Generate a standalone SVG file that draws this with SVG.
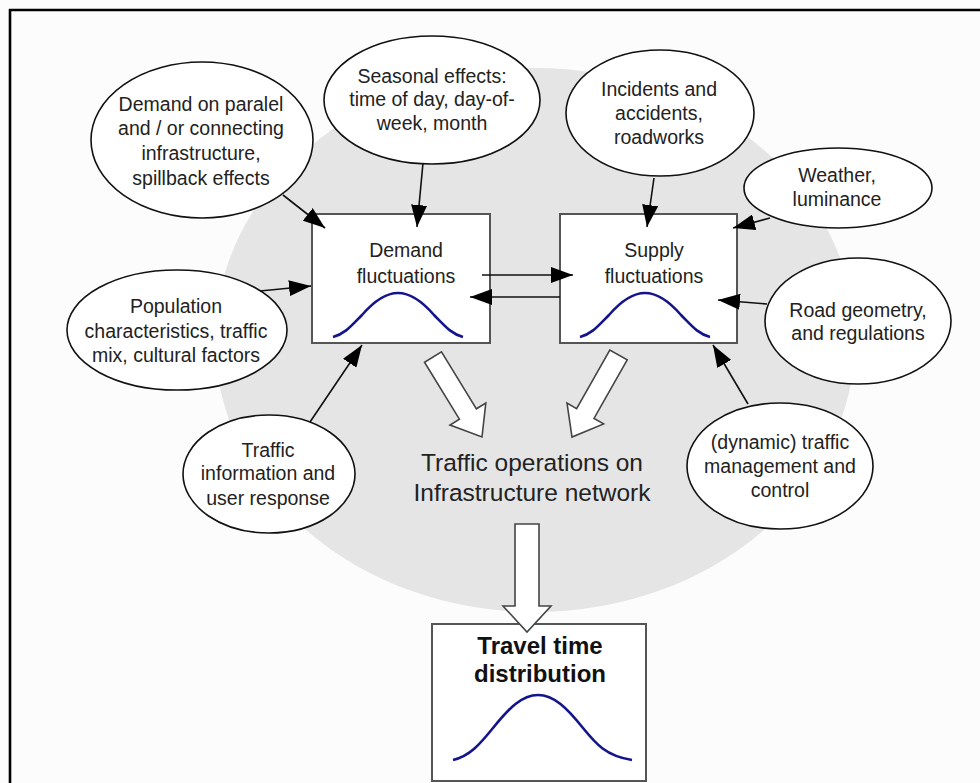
<svg xmlns="http://www.w3.org/2000/svg" width="980" height="783" viewBox="0 0 980 783">
<defs>
<style>
.bg{fill:#fcfcfc}
.cloud{fill:#e5e5e5}
.ell{fill:#ffffff;stroke:#111;stroke-width:1.6}
.box{fill:#ffffff;stroke:#555;stroke-width:2}
.t{font-family:"Liberation Sans",Arial,sans-serif;font-size:19.5px;fill:#222;text-anchor:middle}
.big{font-family:"Liberation Sans",Arial,sans-serif;font-size:24.5px;fill:#222;text-anchor:middle}
.bold{font-family:"Liberation Sans",Arial,sans-serif;font-size:24px;font-weight:bold;fill:#111;text-anchor:middle}
.curve{fill:none;stroke:#14148c;stroke-width:2.6}
.con{stroke:#111;stroke-width:1.6;fill:none}
.block{fill:#ffffff;stroke:#444;stroke-width:1.6;stroke-linejoin:miter}
</style>
<marker id="ah" viewBox="0 0 22 16" refX="22" refY="8" markerWidth="22" markerHeight="16" markerUnits="userSpaceOnUse" orient="auto">
<path d="M0,0 L22,8 L0,16 Z" fill="#000"/>
</marker>
</defs>
<rect class="bg" x="0" y="0" width="980" height="783"/>
<line x1="9" y1="10" x2="980" y2="10" stroke="#000" stroke-width="2.6"/>
<line x1="10" y1="9" x2="10" y2="783" stroke="#000" stroke-width="2.6"/>
<ellipse class="cloud" cx="535" cy="340" rx="320" ry="272"/>

<g id="demand-box">
<rect class="box" x="312" y="214" width="178" height="129"/>
<text class="t" x="406" y="257">Demand</text>
<text class="t" x="406" y="283">fluctuations</text>
<path class="curve" d="M333,337 C345,334 352,325 362,315 C375,300 386,293 398,293 C410,293 421,300 434,315 C444,325 451,334 463,337"/>
</g>

<g id="supply-box">
<rect class="box" x="560" y="214" width="177" height="129"/>
<text class="t" x="654" y="257">Supply</text>
<text class="t" x="654" y="283">fluctuations</text>
<path class="curve" d="M580,337 C592,334 599,325 609,315 C622,300 633,293 645,293 C657,293 668,300 681,315 C691,325 698,334 710,337"/>
</g>

<g id="e-parallel">
<ellipse class="ell" cx="202" cy="140" rx="111" ry="78"/>
<text class="t" x="201" y="111">Demand on paralel</text>
<text class="t" x="201" y="135">and / or connecting</text>
<text class="t" x="201" y="160">infrastructure,</text>
<text class="t" x="201" y="185">spillback effects</text>
</g>

<g id="e-seasonal">
<ellipse class="ell" cx="432" cy="100" rx="108" ry="64"/>
<text class="t" x="432" y="83">Seasonal effects:</text>
<text class="t" x="432" y="106">time of day, day-of-</text>
<text class="t" x="432" y="130">week, month</text>
</g>

<g id="e-incidents">
<ellipse class="ell" cx="660" cy="113" rx="94" ry="63"/>
<text class="t" x="659" y="96">Incidents and</text>
<text class="t" x="659" y="120">accidents,</text>
<text class="t" x="659" y="144">roadworks</text>
</g>

<g id="e-weather">
<ellipse class="ell" cx="838" cy="188" rx="94" ry="40"/>
<text class="t" x="837" y="182">Weather,</text>
<text class="t" x="837" y="206">luminance</text>
</g>

<g id="e-road">
<ellipse class="ell" cx="858" cy="321" rx="93" ry="63"/>
<text class="t" x="858" y="317">Road geometry,</text>
<text class="t" x="858" y="340">and regulations</text>
</g>

<g id="e-population">
<ellipse class="ell" cx="177" cy="330" rx="110" ry="60"/>
<text class="t" x="176" y="313">Population</text>
<text class="t" x="176" y="338">characteristics, traffic</text>
<text class="t" x="176" y="362">mix, cultural factors</text>
</g>

<g id="e-info">
<ellipse class="ell" cx="269" cy="474" rx="86" ry="59"/>
<text class="t" x="268" y="457">Traffic</text>
<text class="t" x="268" y="480">information and</text>
<text class="t" x="268" y="505">user response</text>
</g>

<g id="e-dynamic">
<ellipse class="ell" cx="780" cy="466" rx="93" ry="63"/>
<text class="t" x="780" y="449">(dynamic) traffic</text>
<text class="t" x="780" y="473">management and</text>
<text class="t" x="780" y="497">control</text>
</g>

<g id="operations">
<text class="big" x="532" y="471">Traffic operations on</text>
<text class="big" x="532" y="501">Infrastructure network</text>
</g>

<g id="travel-box">
<rect class="box" x="432" y="624" width="214" height="157"/>
<text class="bold" x="540" y="654">Travel time</text>
<text class="bold" x="540" y="682">distribution</text>
<path class="curve" d="M453,760 C470,756 480,744 493,728 C509,708 522,695 538,695 C554,695 567,708 583,728 C596,744 606,756 632,760"/>
</g>

<g id="connectors">
<line class="con" x1="283" y1="195" x2="325" y2="228" marker-end="url(#ah)"/>
<line class="con" x1="423" y1="163" x2="417" y2="227" marker-end="url(#ah)"/>
<line class="con" x1="260" y1="291" x2="311" y2="286" marker-end="url(#ah)"/>
<line class="con" x1="310" y1="422" x2="362" y2="345" marker-end="url(#ah)"/>
<line class="con" x1="654" y1="178" x2="647" y2="227" marker-end="url(#ah)"/>
<line class="con" x1="770" y1="218" x2="733" y2="228" marker-end="url(#ah)"/>
<line class="con" x1="767" y1="304" x2="718" y2="300" marker-end="url(#ah)"/>
<line class="con" x1="748" y1="404" x2="713" y2="345" marker-end="url(#ah)"/>
<line class="con" x1="482" y1="275" x2="573" y2="275" marker-end="url(#ah)"/>
<line class="con" x1="560" y1="297" x2="470" y2="297" marker-end="url(#ah)"/>
<polygon class="block" points="441.5,351.8 476.4,408.8 485.8,403 482,437 450,425 459.4,419.2 424.5,362.2"/>
<polygon class="block" points="627.2,359.9 594,418.4 603.6,423.9 572,437 567,403.1 576.6,408.6 609.8,350.1"/>
<polygon class="block" points="515,524 539,524 539,606 551,606 527,632 503,606 515,606"/>
</g>
</svg>
